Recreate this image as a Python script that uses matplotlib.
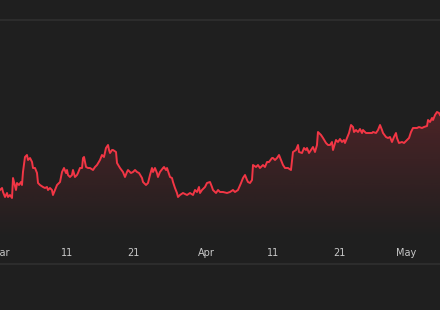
import matplotlib
matplotlib.use("Agg")
import matplotlib.pyplot as plt
import matplotlib.dates as mdates
import numpy as np
import pandas as pd

# days after 1 Mar 2024 and level (chart units)
day_offset = [
    -0.08, 0.23, 0.38, 0.68, 0.98, 1.13, 1.43, 1.73, 1.88, 2.03,
    2.33, 2.48, 2.78, 3.08, 3.23, 3.38, 3.68, 3.98, 4.14, 4.44,
    4.74, 4.89, 5.19, 5.49, 5.64, 5.94, 6.39, 6.69, 6.99, 7.14,
    7.44, 7.74, 7.89, 8.20, 8.50, 8.95, 9.25, 9.55, 9.85, 10.00,
    10.15, 10.45, 10.75, 10.90, 11.20, 11.50, 11.65, 11.95, 12.26, 12.41,
    12.56, 12.86, 13.16, 13.46, 13.91, 14.21, 14.51, 14.96, 15.26, 15.56,
    15.86, 16.17, 16.32,
    16.47, 16.77, 16.92, 17.37, 17.52, 17.97, 18.42, 18.72, 19.02, 19.17,
    19.62, 19.92, 20.23, 20.53, 20.83, 21.28, 21.43, 21.88, 22.18, 22.48,
    22.78, 22.93, 23.23, 23.53, 23.68, 23.98, 24.44, 24.59, 24.89, 25.04,
    25.49, 25.79, 25.94, 26.24, 26.54, 26.69, 26.99, 27.44, 28.05, 28.50,
    28.95, 29.25, 29.55, 29.85, 30.00, 30.30, 30.75, 31.05, 31.50, 31.80,
    31.95, 32.41, 32.71, 33.01,
    33.46, 34.06, 34.51, 34.96, 35.26, 35.71, 36.17, 36.47, 36.77, 37.07,
    37.22, 37.52, 37.82, 37.97, 38.42, 38.72, 39.02, 39.47, 39.77, 40.08,
    40.38, 40.83, 40.98, 41.28, 41.58, 41.88, 42.18, 42.48, 42.78, 43.23,
    43.68, 43.98, 44.44, 44.74, 44.89, 45.34, 45.64, 45.94, 46.09, 46.39,
    46.69, 46.99, 47.29, 47.59, 47.74, 48.20, 48.50, 48.95, 49.25,
    49.55, 49.85, 50.00, 50.45, 50.75, 51.05, 51.35, 51.65, 51.80, 52.11,
    52.41, 52.71, 53.01, 53.16, 53.46, 53.76, 54.06, 54.36, 54.51, 54.96,
    55.26, 55.86, 56.02, 56.47, 56.77, 57.07, 57.37, 57.52, 57.97, 58.27,
    58.57, 58.87, 59.17, 59.47, 59.62, 59.92, 60.38, 60.68, 61.13, 61.43,
    61.73, 62.03, 62.33, 62.63, 62.93, 63.38, 63.68, 64.14, 64.29, 64.59,
    64.89, 65.04, 65.34, 65.64, 65.94, 66.09,
]
level = [
    74, 76, 72, 67, 71, 67, 69, 66, 86, 82,
    74, 81, 79, 82, 79, 92, 107, 109, 104, 106,
    102, 96, 96, 91, 81, 79, 77, 76, 77, 74,
    76, 74, 69, 74, 79, 82, 92, 96, 91, 94,
    89, 87, 89, 94, 87, 89, 91, 96, 96, 106,
    107, 97, 96, 96, 94, 97, 99, 104, 109, 107,
    116, 119, 114,
    111, 114, 114, 112, 101, 96, 92, 87, 92, 94,
    91, 92, 94, 92, 91, 86, 82, 79, 81, 89,
    96, 92, 96, 91, 87, 92, 96, 97, 94, 96,
    87, 86, 82, 76, 71, 67, 69, 71, 69, 71,
    69, 74, 72, 77, 71, 74, 77, 81, 82, 77,
    74, 71, 74, 72,
    72, 71, 72, 74, 72, 74, 81, 86, 89, 84,
    82, 81, 84, 99, 97, 99, 96, 99, 97, 102,
    102, 106, 106, 104, 106, 109, 104, 99, 96, 96,
    94, 112, 114, 119, 112, 111, 116, 114, 116, 111,
    114, 117, 112, 119, 132, 129, 126, 121, 119,
    119, 122, 114, 124, 122, 125, 122, 124, 121, 126,
    131, 139, 137, 132, 134, 132, 135, 131, 134, 131,
    131, 131, 132, 131, 134, 139, 134, 131, 127, 126,
    127, 122, 127, 131, 126, 121, 122, 121, 124, 126,
    132, 136, 136, 136, 137, 136, 137, 138, 144, 142,
    146, 144, 149, 152, 151, 149,
]
tick_days = ["2024-03-01", "2024-03-11", "2024-03-21", "2024-04-01",
             "2024-04-11", "2024-04-21", "2024-05-01"]

BG = "#1f1f1f"
RED = "#f23645"

start = pd.Timestamp("2024-03-01")
dates = start + pd.to_timedelta(day_offset, unit="D")
x = mdates.date2num(dates.to_pydatetime())
y = np.array(level, dtype=float)

fig = plt.figure(figsize=(4.4, 3.1), dpi=100, facecolor=BG)
ax = fig.add_axes([0, 46 / 310, 1, 244 / 310])
ax.set_facecolor(BG)

x0 = mdates.date2num(start.to_pydatetime()) - 0.5 / 6.65
x1 = x0 + 440 / 6.65
ax.set_xlim(x0, x1)
ax.set_ylim(0, 244)

# gradient under the line
ymax = 244
n = 256
rows = np.linspace(0, ymax, n)
alpha = np.clip((rows - 25) / (151 - 25) * 0.21, 0, 0.35)
grad = np.zeros((n, 1, 4))
grad[:, 0, :3] = matplotlib.colors.to_rgb(RED)
grad[:, 0, 3] = alpha
poly = ax.fill_between(x, y, 0, color="none", lw=0)
img = ax.imshow(grad, extent=(x0, x1, 0, ymax), origin="lower", aspect="auto", zorder=1)
img.set_clip_path(poly.get_paths()[0], transform=ax.transData)

ax.plot(x, y, color=RED, lw=1.4, zorder=3, solid_joinstyle="round")

ticks = mdates.date2num(pd.to_datetime(tick_days).to_pydatetime())
ax.set_xticks(ticks)
ax.set_xticklabels([d.strftime("%b") if d.day == 1 else str(d.day)
                    for d in pd.to_datetime(tick_days)])
ax.tick_params(axis="x", length=0, pad=-11.5, labelsize=7, labelcolor="#c8c8c8")
ax.set_yticks([])

for side in ["left", "right"]:
    ax.spines[side].set_visible(False)
for side in ["top", "bottom"]:
    ax.spines[side].set_color("#2f2f2f")
    ax.spines[side].set_linewidth(1.2)

fig.savefig("out.png", dpi=100, facecolor=BG)
